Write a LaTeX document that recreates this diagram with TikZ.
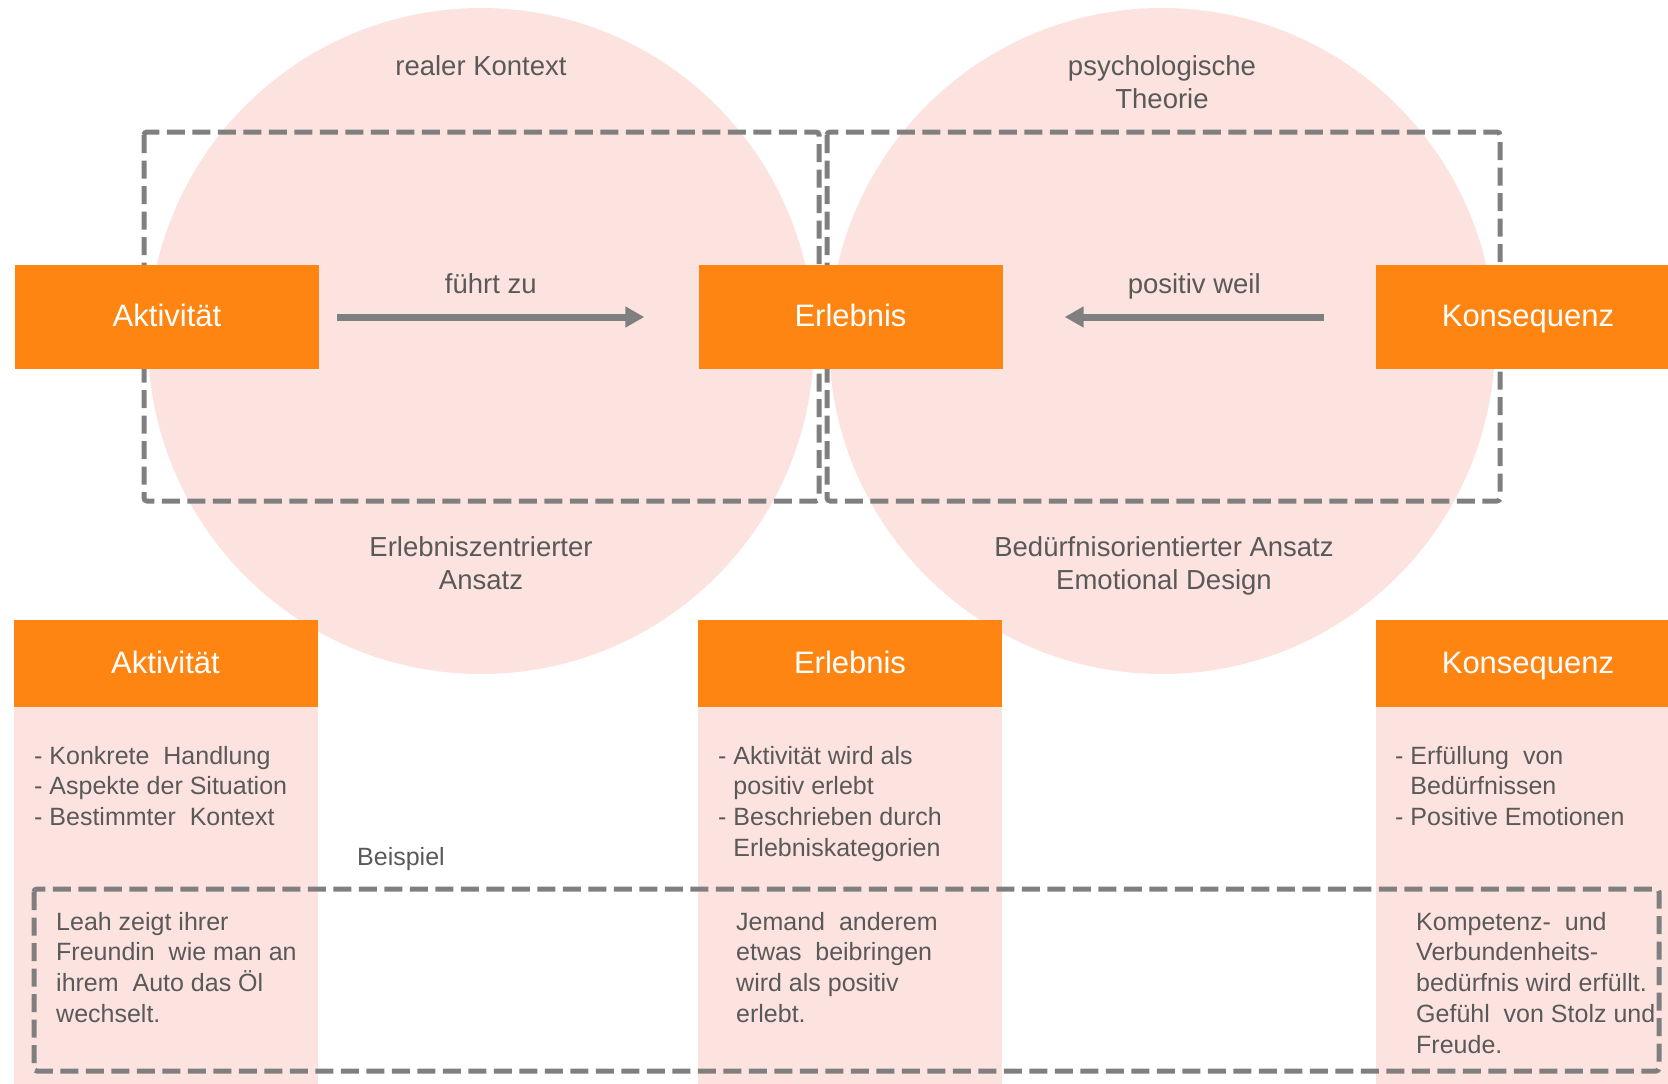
\documentclass[tikz,border=0pt]{standalone}
\usepackage{fontspec}
\setmainfont{Liberation Sans}
\usetikzlibrary{positioning, arrows.meta}
\definecolor{uxOrange}{HTML}{FF8512}
\definecolor{uxPink}{HTML}{FDE3DF}
\definecolor{uxGray}{HTML}{7F7F7F}
\definecolor{uxText}{HTML}{595959}

\begin{document}
\begin{tikzpicture}[
    x=1pt, y=-1pt,
    sphere/.style={circle, fill=uxPink, minimum size=666pt, inner sep=0pt},
    headTop/.style={rectangle, fill=uxOrange, text=white, minimum width=304pt, minimum height=104pt, inner sep=0pt, text height=22pt, text depth=3pt, font=\fontsize{31}{37}\selectfont},
    headBot/.style={rectangle, fill=uxOrange, text=white, minimum width=304pt, minimum height=87pt, inner sep=0pt, text height=22pt, text depth=3pt, font=\fontsize{31}{37}\selectfont},
    column/.style={rectangle, fill=uxPink, minimum width=304pt, minimum height=377pt, inner sep=0pt, anchor=north},
    frame/.style={draw=uxGray, line width=5pt, dash pattern=on 18pt off 7.5pt, rounded corners=3pt},
    flow/.style={draw=uxGray, line width=7pt, -{Triangle[length=19pt, width=20pt]}},
    caption/.style={text=uxText, align=center, inner sep=0pt, anchor=base, font=\fontsize{27.5}{33}\selectfont},
    note/.style={text=uxText, align=left, inner sep=0pt, anchor=base west, font=\fontsize{25}{30.8}\selectfont},
]
\useasboundingbox (0,0) rectangle (1668,1084);
% circles (base = last line)
\node[sphere] (real) at (481, 341) {};
\node[sphere] (psy)  at (1162, 341) {};
\node[caption] (realLbl) at (481, 75) {realer Kontext};
\node[caption] (psyLbl)  at (1162, 108) {psychologische\\Theorie};
\node[caption] (erlAns)  at (481, 589) {Erlebniszentrierter\\Ansatz};
\node[caption] (bedAns)  at (1164, 589) {Bedürfnisorientierter Ansatz\\Emotional Design};
% approaches
\draw[frame] (144, 132) rectangle (819, 501);
\draw[frame] (827, 132) rectangle (1500, 501);
\node[headTop] (akt) at (167, 317)    {Aktivität};
\node[headTop] (erl) at (850.5, 317)  {Erlebnis};
\node[headTop] (kon) at (1528, 317)   {Konsequenz};
\draw[flow] ([xshift=18pt]akt.east) -- node[caption, yshift=24pt] (fuehrt) {führt zu} ([xshift=-54pt]erl.west);
\draw[flow] ([xshift=-52pt]kon.west) -- node[caption, yshift=24pt] (weil) {positiv weil} ([xshift=62pt]erl.east);
% table below
\node[column] (aktCol) at (165.5, 707) {};
\node[column] (erlCol) at (850, 707) {};
\node[column] (konCol) at (1528, 707) {};
\node[headBot] (aktHd) at (165.5, 663.5) {Aktivität};
\node[headBot] (erlHd) at (850, 663.5)   {Erlebnis};
\node[headBot] (konHd) at (1528, 663.5)  {Konsequenz};
\node[note] (aktTxt) at (34, 825.6)   {- Konkrete\ \ Handlung\\- Aspekte der Situation\\- Bestimmter\ \ Kontext};
\node[note] (erlTxt) at (718, 856.4)  {- Aktivität wird als\\\hphantom{- }positiv erlebt\\- Beschrieben durch\\\hphantom{- }Erlebniskategorien};
\node[note] (konTxt) at (1395, 825.6) {- Erfüllung\ \ von\\\hphantom{- }Bedürfnissen\\- Positive Emotionen};
\node[note] (bsp) at (357, 865) {Beispiel};
\draw[frame] (34, 889) rectangle (1659, 1071);
\node[note] (aktBsp) at (56, 1022.4)   {Leah zeigt ihrer\\Freundin\ \ wie man an\\ihrem\ \ Auto das Öl\\wechselt.};
\node[note] (erlBsp) at (736, 1022.4)  {Jemand\ \ anderem\\etwas\ \ beibringen\\wird als positiv\\erlebt.};
\node[note] (konBsp) at (1416, 1053.2) {Kompetenz-\ \ und\\Verbundenheits-\\bedürfnis\ wird erfüllt.\\Gefühl\ \ von Stolz und\\Freude.};
\end{tikzpicture}
\end{document}
